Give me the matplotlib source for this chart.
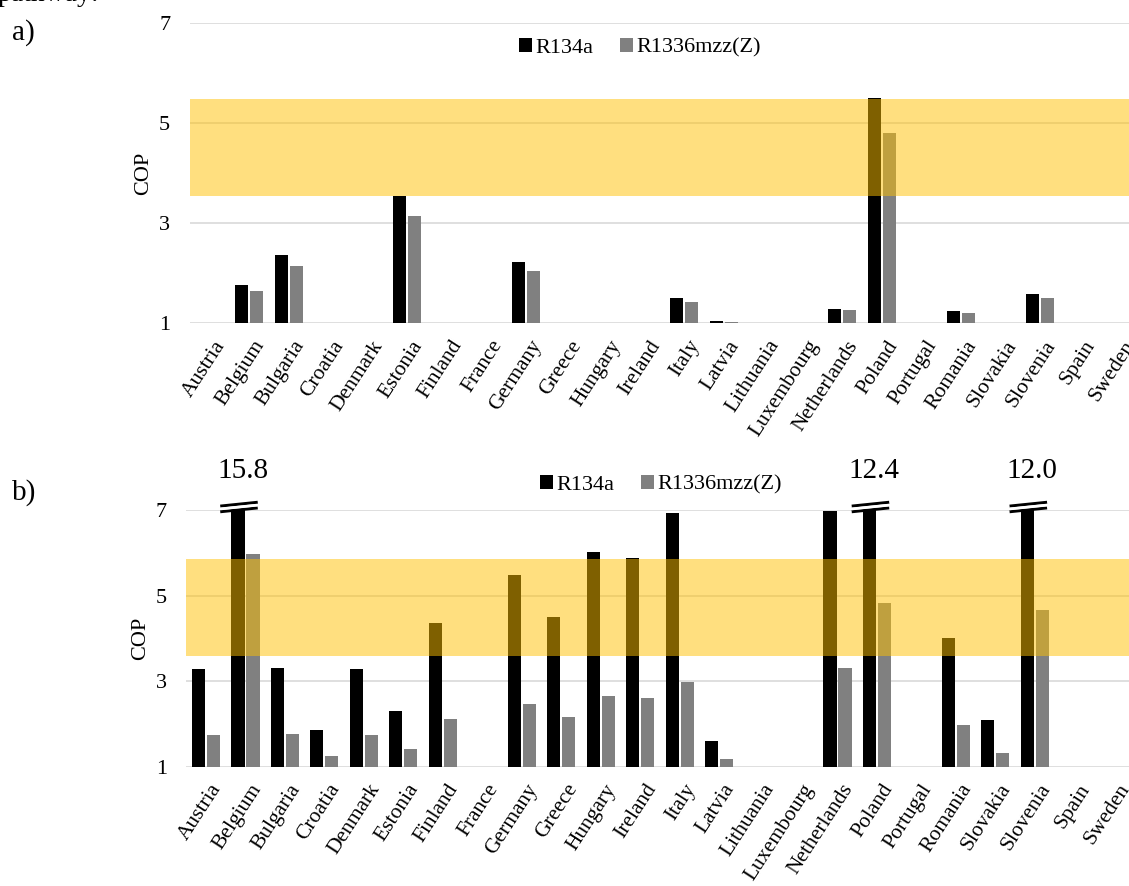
import matplotlib
matplotlib.use("Agg")
import matplotlib.pyplot as plt
import numpy as np

plt.rcParams['font.family'] = ['Liberation Serif', 'DejaVu Serif']

countries = ['Austria', 'Belgium', 'Bulgaria', 'Croatia', 'Denmark', 'Estonia', 'Finland',
             'France', 'Germany', 'Greece', 'Hungary', 'Ireland', 'Italy', 'Latvia',
             'Lithuania', 'Luxembourg', 'Netherlands', 'Poland', 'Portugal', 'Romania',
             'Slovakia', 'Slovenia', 'Spain', 'Sweden']
nan = np.nan

# panel a)
a_r134a = [nan, 1.77, 2.37, nan, nan, 3.55, nan, nan, 2.23, nan, nan, nan, 1.50, 1.05,
           nan, nan, 1.29, 5.50, nan, 1.24, nan, 1.59, nan, nan]
a_r1336 = [nan, 1.65, 2.15, nan, nan, 3.15, nan, nan, 2.05, nan, nan, nan, 1.43, 1.03,
           nan, nan, 1.26, 4.80, nan, 1.20, nan, 1.50, nan, nan]
a_band = (3.54, 5.48)

# panel b)
b_r134a = [3.29, 15.8, 3.31, 1.86, 3.29, 2.31, 4.36, nan, 5.47, 4.49, 6.01, 5.87, 6.94, 1.61,
           nan, nan, 6.98, 12.4, nan, 4.01, 2.08, 12.0, nan, nan]
b_r1336 = [1.73, 5.97, 1.76, 1.26, 1.73, 1.41, 2.11, nan, 2.47, 2.15, 2.66, 2.60, 2.97, 1.18,
           nan, nan, 3.30, 4.82, nan, 1.98, 1.32, 4.66, nan, nan]
b_band = (3.59, 5.85)

W, H = 1129, 886
fig = plt.figure(figsize=(W / 100, H / 100), dpi=100)


def panel(rect, r134a, r1336, band, legend_xy, broken=False):
    ax = fig.add_axes(rect)
    x = np.arange(len(countries))
    w = 0.33
    ax.bar(x - 0.19, r134a, w, color='black', zorder=2, label='R134a')
    ax.bar(x + 0.19, r1336, w, color='#808080', zorder=2, label='R1336mzz(Z)')
    ax.axhspan(band[0], band[1], color='#FFC000', alpha=0.5, lw=0, zorder=3)
    ax.set_ylim(1, 7)
    ax.set_xlim(-0.5, len(countries) - 0.5)
    ax.set_yticks([1, 3, 5, 7])
    ax.grid(axis='y', color='#d9d9d9', lw=1.2, zorder=0)
    ax.set_axisbelow(True)
    for s in ax.spines.values():
        s.set_visible(False)
    ax.tick_params(axis='y', length=0, pad=14, labelsize=16)
    ax.tick_params(axis='x', length=0, pad=10)
    ax.set_xticks(x + 0.1)
    ax.set_xticklabels(countries, rotation=57, ha='right', rotation_mode='anchor', fontsize=15.5)
    ax.set_ylabel('COP', fontsize=16, labelpad=4)
    ax.legend(loc='center', bbox_to_anchor=legend_xy, bbox_transform=fig.transFigure, ncol=2,
              frameon=False, fontsize=16, handlelength=0.6, handleheight=0.6,
              handletextpad=0.15, columnspacing=1.2)
    if broken:
        for xi, v in zip(x, r134a):
            if v > 7:
                xc = xi - 0.19
                for y0 in (0.0, 0.13):
                    ax.plot([xc - 0.45, xc + 0.50], [6.96 + y0, 7.05 + y0], color='black',
                            lw=2.2, clip_on=False, zorder=5, solid_capstyle='butt')
                ax.plot([xc - 0.45, xc + 0.50], [7.025, 7.115], color='white',
                        lw=2.0, clip_on=False, zorder=5, solid_capstyle='butt')
                ax.text(xc + 0.12, 7.9, f'{v:.1f}', ha='center', va='center', fontsize=21)
    return ax


px = lambda l, t, r, b: [l / W, 1 - b / H, (r - l) / W, (b - t) / H]

panel(px(189.7, 23, 1138.9, 323), a_r134a, a_r1336, a_band, (640 / W, 1 - 48 / H))
panel(px(186.3, 510, 1133.5, 766.7), b_r134a, b_r1336, b_band, (661 / W, 1 - 485 / H), broken=True)

fig.text(12 / W, 1 - 33 / H, 'a)', fontsize=21, va='center')
fig.text(12 / W, 1 - 493 / H, 'b)', fontsize=21, va='center')
fig.text(-2 / W, 1 - 1 / H, 'pathway:', fontsize=20, va='baseline')

fig.savefig('out.png', dpi=100)
